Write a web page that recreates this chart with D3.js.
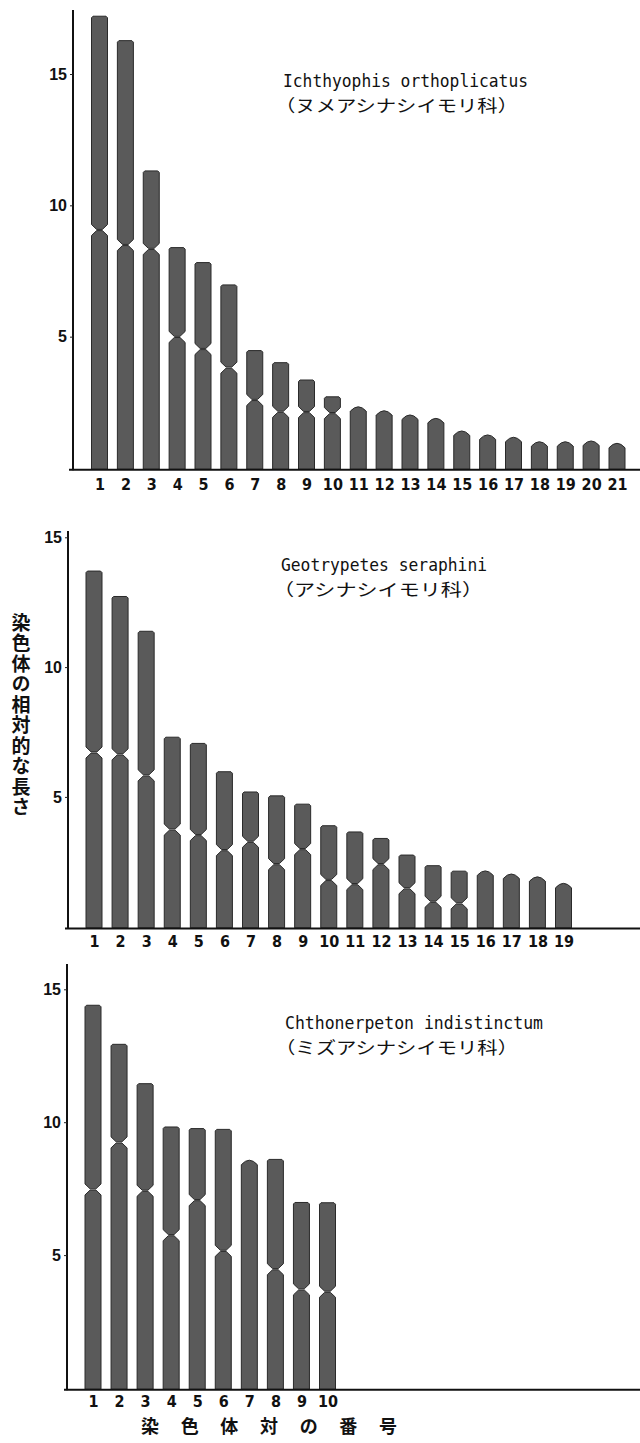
<!DOCTYPE html>
<html>
<head>
<meta charset="utf-8">
<script src="https://cdn.jsdelivr.net/npm/d3@7/dist/d3.min.js"></script>
<style>
    html, body { margin: 0; padding: 0; background: #fff; }
    svg { display: block; }
</style>
</head>
<body>
<script>
'use strict';

// relative lengths of each chromosome pair, and position of the centromere (null = pointed / telocentric)
var ichthyophisPairs = ['1','2','3','4','5','6','7','8','9','10','11','12','13','14','15','16','17','18','19','20','21'],
    ichthyophisLengths = [17.2, 16.27, 11.31, 8.39, 7.82, 6.97, 4.47, 4.01, 3.35, 2.71, 2.33, 2.18, 2.02, 1.89, 1.41, 1.26, 1.17, 1.0, 1.0, 1.03, 0.94],
    ichthyophisCentromeres = [9.06, 8.49, 8.34, 4.99, 4.53, 3.82, 2.59, 2.14, 2.13, 2.09, null, null, null, null, null, null, null, null, null, null, null];

var geotrypetesPairs = ['1','2','3','4','5','6','7','8','9','10','11','12','13','14','15','16','17','18','19'],
    geotrypetesLengths = [13.7, 12.72, 11.38, 7.3, 7.06, 5.97, 5.19, 5.04, 4.72, 3.89, 3.65, 3.4, 2.76, 2.35, 2.14, 2.15, 2.03, 1.92, 1.67],
    geotrypetesCentromeres = [6.71, 6.64, 5.83, 3.74, 3.53, 2.95, 3.27, 2.41, 2.99, 1.8, 1.64, 2.41, 1.48, 0.96, 0.9, null, null, null, null];

var chthonerpetonPairs = ['1','2','3','4','5','6','7','8','9','10'],
    chthonerpetonLengths = [14.4, 12.93, 11.45, 9.82, 9.76, 9.73, 8.57, 8.6, 6.98, 6.97],
    chthonerpetonCentromeres = [7.47, 9.24, 7.42, 5.75, 7.07, 5.16, null, 4.47, 3.71, 3.62];

var speciesNames = ['Ichthyophis orthoplicatus', 'Geotrypetes seraphini', 'Chthonerpeton indistinctum'],
    familyNames = ['（ヌメアシナシイモリ科）', '（アシナシイモリ科）', '（ミズアシナシイモリ科）'],
    yTickValues = [5, 10, 15],
    yAxisLabel = '染色体の相対的な長さ',
    xAxisLabel = ['染', '色', '体', '対', 'の', '番', '号'];

var panels = [
    { pairs: ichthyophisPairs, lengths: ichthyophisLengths, cents: ichthyophisCentromeres,
      xRange: [99.5, 617], zeroY: 468, topTickY: 74, axisX: 73, axisTopY: 10, baseX: 69, tickY: 490,
      nameX: 283, nameW: 245, nameY: 87, famX: 275, famW: 243, famY: 111.5 },
    { pairs: geotrypetesPairs, lengths: geotrypetesLengths, cents: geotrypetesCentromeres,
      xRange: [94, 563.5], zeroY: 926.7, topTickY: 537.3, axisX: 68, axisTopY: 531, baseX: 65, tickY: 947,
      nameX: 281, nameW: 206, nameY: 571, famX: 273, famW: 210, famY: 595.5 },
    { pairs: chthonerpetonPairs, lengths: chthonerpetonLengths, cents: chthonerpetonCentromeres,
      xRange: [93, 327.5], zeroY: 1388, topTickY: 989.3, axisX: 67, axisTopY: 964, baseX: 64, tickY: 1407,
      nameX: 285, nameW: 258, nameY: 1029, famX: 275, famW: 243, famY: 1053.5 }
];

var barWidth = 16,
    barFill = '#5a5a5a',
    barStroke = '#2a2a2a',
    numberFont = "'Liberation Sans Narrow', 'DejaVu Sans Condensed', sans-serif",
    cjkFont = "'Noto Sans CJK JP', sans-serif";

var svg = d3.select( 'body' ).append( 'svg' )
    .attr( 'width', 640 )
    .attr( 'height', 1443 );

svg.append( 'rect' )
    .attr( 'width', 640 )
    .attr( 'height', 1443 )
    .attr( 'fill', '#fff' );

function pt( x, y ){
    return x.toFixed( 2 ) + ',' + y.toFixed( 2 );
}

// one chromosome: either two arms pinched at the centromere or a single arm with a rounded point
function chromosomePath( cx, top, bottom, cen ){
    var l = cx - barWidth / 2,
        r = cx + barWidth / 2,
        n = 5.5,
        t = barWidth * 0.18,
        g = 0.6,
        c = 1.5,
        p = 4.5;

    if ( cen === null ){
        return 'M' + pt( l, bottom ) +
            'L' + pt( l, top + p ) +
            'Q' + pt( cx, top - p ) + ' ' + pt( r, top + p ) +
            'L' + pt( r, bottom ) + 'Z';
    }

    return 'M' + pt( l, cen - n ) +
        'L' + pt( l, top + c ) +
        'L' + pt( l + c, top ) +
        'L' + pt( r - c, top ) +
        'L' + pt( r, top + c ) +
        'L' + pt( r, cen - n ) +
        'L' + pt( cx + t, cen - g ) +
        'L' + pt( cx - t, cen - g ) + 'Z' +
        'M' + pt( l, bottom ) +
        'L' + pt( l, cen + n ) +
        'L' + pt( cx - t, cen + g ) +
        'L' + pt( cx + t, cen + g ) +
        'L' + pt( r, cen + n ) +
        'L' + pt( r, bottom ) + 'Z';
}

panels.forEach( function( cfg, i ){
    var x = d3.scalePoint()
            .domain( cfg.pairs )
            .range( cfg.xRange ),
        y = d3.scaleLinear()
            .domain( [0, 15] )
            .range( [cfg.zeroY, cfg.topTickY] ),
        baseY = cfg.zeroY + 1.2,
        $g = svg.append( 'g' ).attr( 'class', 'panel panel-' + i );

    // chromosomes
    $g.selectAll( 'path.chromosome' )
        .data( cfg.pairs )
        .enter().append( 'path' )
        .attr( 'class', 'chromosome' )
        .attr( 'd', function( d, j ){
            var c = cfg.cents[j];
            return chromosomePath( x( d ), y( cfg.lengths[j] ), baseY, c === null ? null : y( c ) );
        })
        .attr( 'fill', barFill )
        .attr( 'stroke', barStroke )
        .attr( 'stroke-width', 1 )
        .attr( 'stroke-linejoin', 'round' );

    // axes lines
    $g.append( 'line' )
        .attr( 'x1', cfg.axisX ).attr( 'x2', cfg.axisX )
        .attr( 'y1', cfg.axisTopY ).attr( 'y2', baseY + 1 )
        .attr( 'stroke', '#111' )
        .attr( 'stroke-width', 2 );

    $g.append( 'line' )
        .attr( 'x1', cfg.baseX ).attr( 'x2', 640 )
        .attr( 'y1', baseY + 0.5 ).attr( 'y2', baseY + 0.5 )
        .attr( 'stroke', '#111' )
        .attr( 'stroke-width', 2 );

    // y ticks
    var $y = $g.append( 'g' )
        .attr( 'transform', 'translate(' + cfg.axisX + ',0)' )
        .call( d3.axisLeft( y ).tickValues( yTickValues ).tickSize( 3 ).tickPadding( 3 ).tickFormat( d3.format( 'd' ) ) );

    $y.select( '.domain' ).remove();
    $y.selectAll( 'line' ).attr( 'stroke', '#222' );
    $y.selectAll( 'text' )
        .attr( 'font-family', "'Liberation Sans', 'DejaVu Sans', sans-serif" )
        .attr( 'font-size', 16 )
        .attr( 'font-weight', 'bold' )
        .attr( 'fill', '#111' );

    // x tick labels
    var $x = $g.append( 'g' )
        .attr( 'transform', 'translate(0,' + cfg.tickY + ')' )
        .call( d3.axisBottom( x ).tickSize( 0 ).tickPadding( 0 ) );

    $x.select( '.domain' ).remove();
    $x.selectAll( 'text' )
        .attr( 'dy', 0 )
        .attr( 'font-family', numberFont )
        .attr( 'font-size', 16 )
        .attr( 'font-weight', 'bold' )
        .attr( 'fill', '#111' );

    // species name, family underneath
    $g.append( 'text' )
        .attr( 'x', cfg.nameX )
        .attr( 'y', cfg.nameY )
        .attr( 'textLength', cfg.nameW )
        .attr( 'lengthAdjust', 'spacingAndGlyphs' )
        .attr( 'font-family', "'DejaVu Sans Mono', monospace" )
        .attr( 'font-size', 18 )
        .attr( 'fill', '#111' )
        .text( speciesNames[i] );

    $g.append( 'text' )
        .attr( 'x', cfg.famX )
        .attr( 'y', cfg.famY )
        .attr( 'textLength', cfg.famW )
        .attr( 'lengthAdjust', 'spacingAndGlyphs' )
        .attr( 'font-family', cjkFont )
        .attr( 'font-size', 17 )
        .attr( 'fill', '#111' )
        .text( familyNames[i] );
});

// vertical y axis title, written top to bottom
svg.append( 'text' )
    .attr( 'x', 21 )
    .attr( 'y', 613 )
    .style( 'writing-mode', 'vertical-rl' )
    .attr( 'font-family', cjkFont )
    .attr( 'font-size', 19 )
    .attr( 'font-weight', 'bold' )
    .attr( 'letter-spacing', 1.5 )
    .attr( 'fill', '#111' )
    .text( yAxisLabel );

// x axis title, spaced characters
var xTitle = d3.scalePoint()
    .domain( d3.range( xAxisLabel.length ) )
    .range( [150, 388] );

svg.append( 'g' )
    .selectAll( 'text' )
    .data( xAxisLabel )
    .enter().append( 'text' )
    .attr( 'x', function( d, i ){ return xTitle( i ); } )
    .attr( 'y', 1425 )
    .attr( 'text-anchor', 'middle' )
    .attr( 'dominant-baseline', 'central' )
    .attr( 'font-family', cjkFont )
    .attr( 'font-size', 18 )
    .attr( 'font-weight', 'bold' )
    .attr( 'fill', '#111' )
    .text( function( d ){ return d; } );
</script>
</body>
</html>
